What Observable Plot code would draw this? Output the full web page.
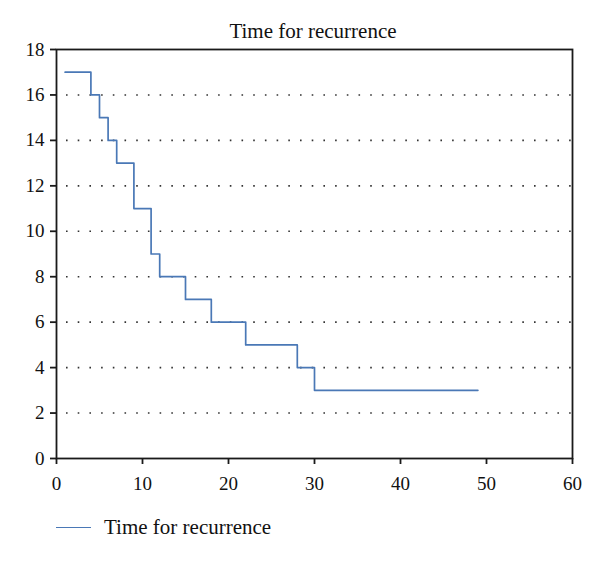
<!DOCTYPE html>
<html>
<head>
<meta charset="utf-8">
<script src="https://cdn.jsdelivr.net/npm/d3@7"></script>
<script src="https://cdn.jsdelivr.net/npm/@observablehq/plot@0.6"></script>
<style>
  html, body { margin: 0; padding: 0; background: #fff; }
  body { width: 600px; height: 562px; overflow: hidden; font-family: "Liberation Serif", "DejaVu Serif", serif; color: #111; }
  #title { height: 40px; position: relative; }
  #title span { position: absolute; left: 313px; top: 21px; transform: translateX(-50%); font-size: 21px; line-height: 1; white-space: nowrap; }
  #legend { position: relative; height: 62px; }
  #legend .sw { position: absolute; left: 56px; top: 27px; width: 35px; height: 0; border-top: 1.5px solid #4a78b6; }
  #legend .lab { position: absolute; left: 104px; top: 17px; font-size: 21px; line-height: 1; white-space: nowrap; }
</style>
</head>
<body>
<div id="title"><span>Time for recurrence</span></div>
<div id="chart"></div>
<div id="legend"><div class="sw"></div><div class="lab">Time for recurrence</div></div>
<script>
const seriesName = "Time for recurrence";
const times = [1, 4, 5, 6, 7, 9, 11, 12, 15, 18, 22, 28, 30, 49];
const counts = [17, 16, 15, 14, 13, 11, 9, 8, 7, 6, 5, 4, 3, 3];
const xTicks = [0, 10, 20, 30, 40, 50, 60];
const yTicks = [0, 2, 4, 6, 8, 10, 12, 14, 16, 18];
const gridLevels = [2, 4, 6, 8, 10, 12, 14, 16];

const data = times.map((t, i) => ({time: t, count: counts[i], series: seriesName}));

const chart = Plot.plot({
  width: 600,
  height: 460,
  marginTop: 9,
  marginBottom: 42,
  marginLeft: 56,
  marginRight: 28,
  style: {fontFamily: "Liberation Serif, DejaVu Serif, serif", fontSize: "19px", color: "#111", background: "#fff"},
  x: {domain: [0, 60], ticks: xTicks, label: null},
  y: {domain: [0, 18], ticks: yTicks, label: null},
  marks: [
    Plot.ruleY(gridLevels, {stroke: "#333", strokeWidth: 1.6, strokeDasharray: "1.6,10.1", strokeDashoffset: -10}),
    Plot.line(data, {x: "time", y: "count", curve: "step-after", stroke: "#4a78b6", strokeWidth: 1.7}),
    Plot.frame({stroke: "#1a1a1a", strokeWidth: 1.8}),
    Plot.axisX({ticks: xTicks, tickSize: 6, tickPadding: 12, stroke: "#1a1a1a", strokeWidth: 1.8, fontSize: 19}),
    Plot.axisY({ticks: yTicks, tickSize: 6, tickPadding: 6, stroke: "#1a1a1a", strokeWidth: 1.8, fontSize: 19})
  ]
});
document.getElementById("chart").appendChild(chart);
</script>
</body>
</html>
